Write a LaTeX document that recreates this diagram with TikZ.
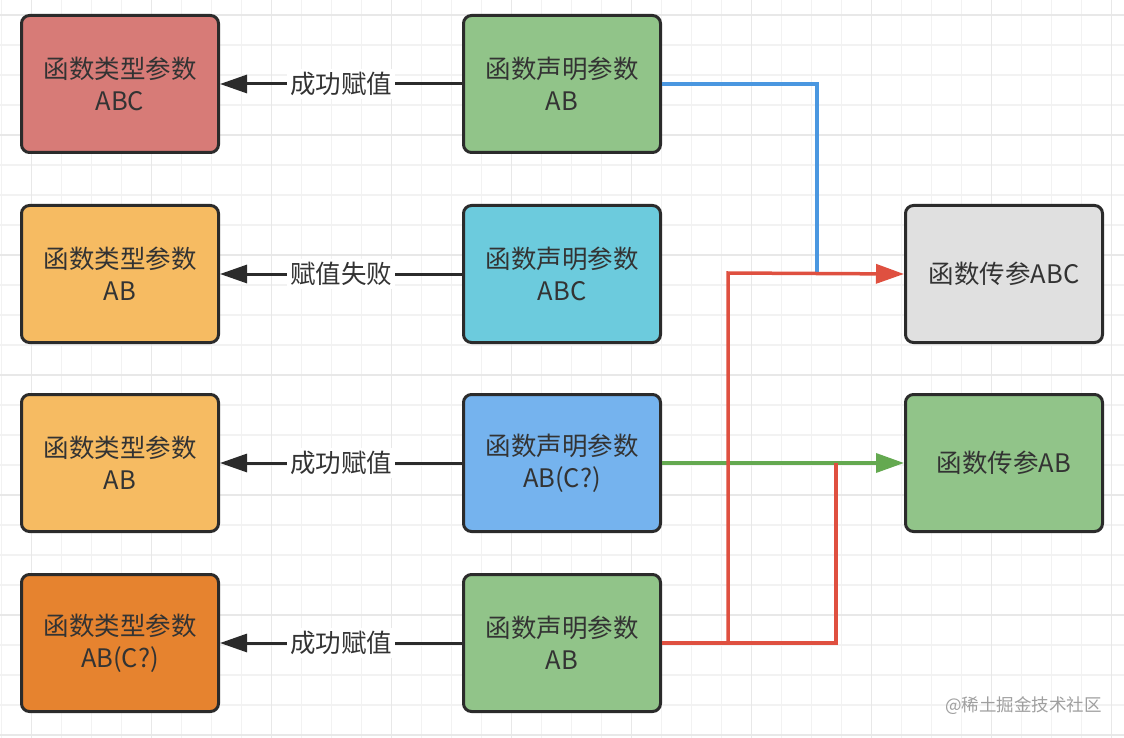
\documentclass[tikz,border=0pt]{standalone}
\usepackage{fontspec}
\setmainfont{Noto Sans CJK SC}
\usetikzlibrary{arrows.meta}
\definecolor{boxred}{HTML}{D77B77}
\definecolor{boxorange}{HTML}{F6BB62}
\definecolor{boxdark}{HTML}{E6832F}
\definecolor{boxgreen}{HTML}{91C489}
\definecolor{boxcyan}{HTML}{6CCBDD}
\definecolor{boxblue}{HTML}{75B3EE}
\definecolor{boxgray}{HTML}{E0E0E0}
\definecolor{edge}{HTML}{2B2B2B}
\definecolor{txt}{HTML}{333333}
\definecolor{lblue}{HTML}{4A97E0}
\definecolor{lred}{HTML}{DF5040}
\definecolor{lgreen}{HTML}{64A950}
\definecolor{gridminor}{HTML}{F2F2F2}
\definecolor{gridmajor}{HTML}{E8E8E8}
\tikzset{
  box/.style={draw=edge, line width=3pt, rounded corners=8pt, minimum width=197pt, minimum height=137pt,
    align=center, text=txt, font=\fontsize{25.5}{32}\selectfont, inner sep=2pt},
  blk/.style={draw=edge, line width=3pt, -{Triangle[length=27pt,width=18pt]}},
  lbl/.style={fill=white, text=txt, font=\fontsize{25.5}{28}\selectfont, inner sep=3pt},
  conn/.style={line width=3.5pt},
  tip/.style={-{Triangle[length=28pt,width=19pt]}}
}
\begin{document}
\begin{tikzpicture}[x=1pt,y=-1pt]
\useasboundingbox (0,0) rectangle (1124,738);
\fill[white] (0,0) rectangle (1124,738);
% grid
\foreach \i in {0,...,37} {
  \draw[gridminor, line width=1.5pt] ({1.7+30*\i},0) -- ({1.7+30*\i},738);
}
\foreach \i in {0,...,24} {
  \draw[gridminor, line width=1.5pt] (0,{15+30*\i}) -- (1124,{15+30*\i});
}
\foreach \i in {0,...,9} {
  \draw[gridmajor, line width=1.5pt] ({31.7+120*\i},0) -- ({31.7+120*\i},738);
}
\foreach \i in {0,...,6} {
  \draw[gridmajor, line width=1.5pt] (0,{15+120*\i}) -- (1124,{15+120*\i});
}
% left column
\node[box, fill=boxred]    (l1) at (120,84)  {函数类型参数\\ABC};
\node[box, fill=boxorange] (l2) at (120,274) {函数类型参数\\AB};
\node[box, fill=boxorange] (l3) at (120,463) {函数类型参数\\AB};
\node[box, fill=boxdark]   (l4) at (120,643) {函数类型参数\\AB(C?)};
% middle column
\node[box, fill=boxgreen] (m1) at (562,84)  {函数声明参数\\AB};
\node[box, fill=boxcyan]  (m2) at (562,274) {函数声明参数\\ABC};
\node[box, fill=boxblue]  (m3) at (562,463) {函数声明参数\\AB(C?)};
\node[box, fill=boxgreen] (m4) at (562,643) {函数声明参数\\AB};
% right column
\node[box, fill=boxgray]  (r1) at (1004,274) {函数传参ABC};
\node[box, fill=boxgreen] (r2) at (1004,463) {函数传参AB};
% black arrows
\draw[blk] (m1.west) -- node[lbl] {成功赋值} (l1.east);
\draw[blk] (m2.west) -- node[lbl] {赋值失败} (l2.east);
\draw[blk] (m3.west) -- node[lbl] {成功赋值} (l3.east);
\draw[blk] (m4.west) -- node[lbl] {成功赋值} (l4.east);
% coloured connectors
\coordinate (bj) at (817,273);
\coordinate (gj) at (836,463);
\coordinate (rb) at (728,643);
\draw[conn, lblue] (m1.east) -- (817,84) -- (bj);
\draw[conn, lgreen, tip] (m3.east) -- (r2.west);
\draw[conn, lred] (rb) -- (836,643) -- (gj);
\draw[conn, lred, line width=4.5pt] (m4.east) -- (rb);
\draw[conn, lred, tip] (m4.east) -- (rb) -- (728,273) -- (r1.west);
% watermark
\node[anchor=east, text=gray!75, font=\fontsize{17.5}{20}\selectfont, inner sep=0pt] (wm) at (1102,706) {@稀土掘金技术社区};
\end{tikzpicture}
\end{document}
